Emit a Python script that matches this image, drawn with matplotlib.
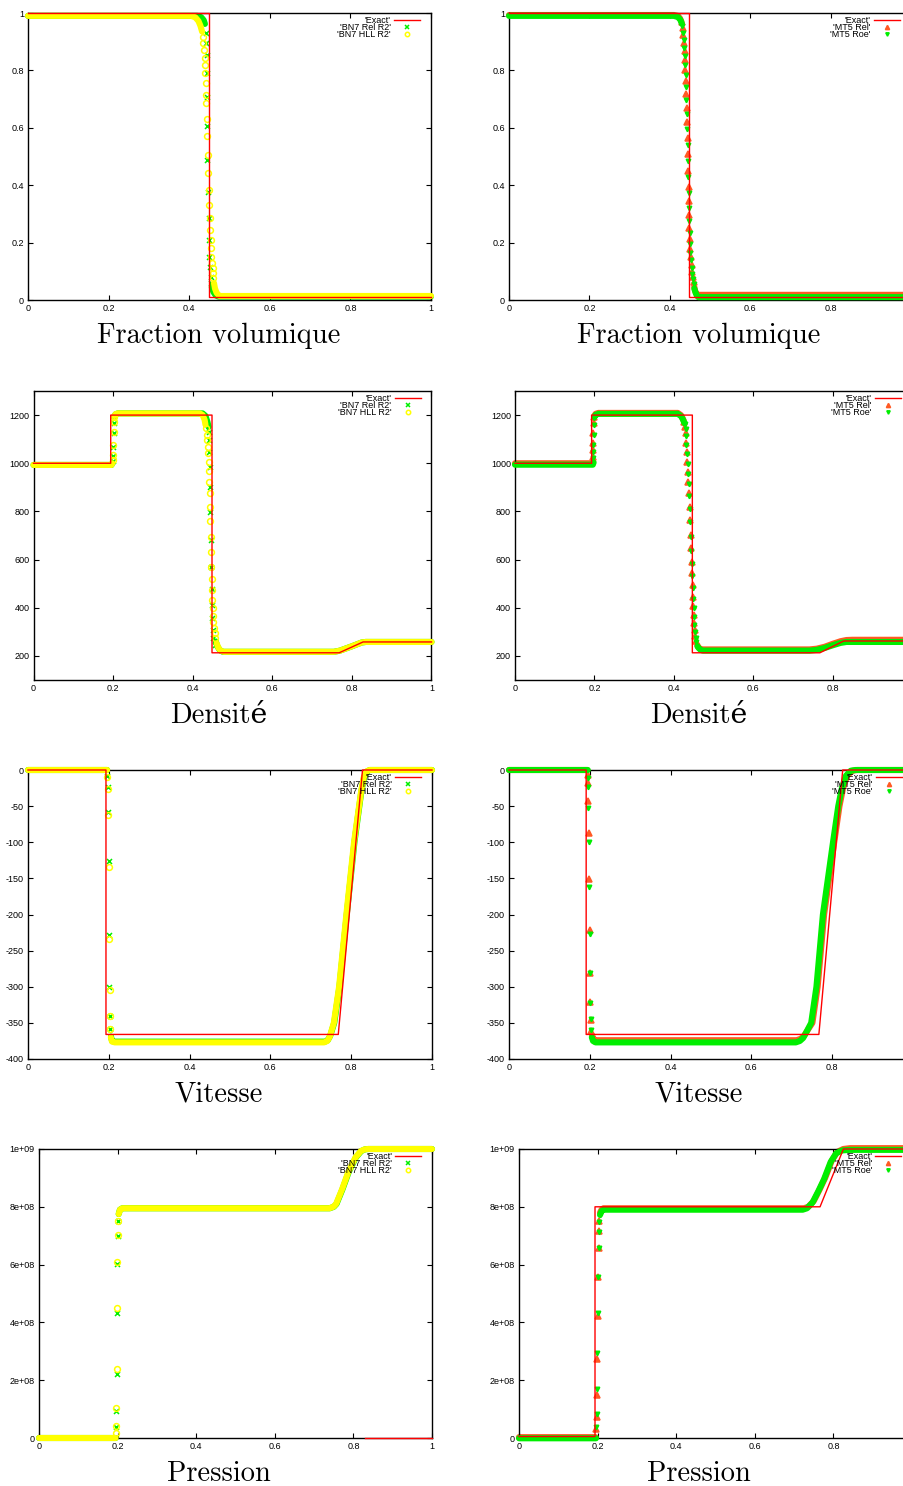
import numpy as np
import matplotlib.pyplot as plt

plt.rcParams['font.family'] = ['Liberation Sans', 'DejaVu Sans']
plt.rcParams['axes.unicode_minus'] = False

nan = np.nan

# ---- ticks / labels
x_ticks = [0, 0.2, 0.4, 0.6, 0.8, 1]
x_ticklabels = ['0', '0.2', '0.4', '0.6', '0.8', '1']
# right column is cut by the page edge, the "1" is not shown there
x_ticklabels_right = ['0', '0.2', '0.4', '0.6', '0.8', '']
alpha_ticks = [0, 0.2, 0.4, 0.6, 0.8, 1]
alpha_ticklabels = ['0', '0.2', '0.4', '0.6', '0.8', '1']
rho_ticks = [200, 400, 600, 800, 1000, 1200]
rho_ticklabels = ['200', '400', '600', '800', '1000', '1200']
u_ticks = [0, -50, -100, -150, -200, -250, -300, -350, -400]
u_ticklabels = ['0', '-50', '-100', '-150', '-200', '-250', '-300', '-350', '-400']
p_ticks = [0, 2e8, 4e8, 6e8, 8e8, 1e9]
p_ticklabels = ['0', '2e+08', '4e+08', '6e+08', '8e+08', '1e+09']
titles = ['Fraction volumique', 'Densité', 'Vitesse', 'Pression']
labels_left = ["'Exact'", "'BN7 Rel R2'", "'BN7 HLL R2'"]
labels_right = ["'Exact'", "'MT5 Rel'", "'MT5 Roe'"]

# ================= Fraction volumique =================
alpha_exact_x = [0, 0.448, 0.448, 1]
alpha_exact_y = [1, 1, 0.01, 0.01]
alpha_rel_band_x = [0, 0.42, 0.43, 0.436, 0.439, nan, 0.456, 0.46, 0.466, 0.472, 1]
alpha_rel_band_y = [0.99, 0.99, 0.985, 0.975, 0.962, nan, 0.045, 0.028, 0.016, 0.012, 0.012]
alpha_rel_pts_x = [0.441, 0.4417, 0.4434, 0.4434, 0.4434, 0.445, 0.445, 0.447, 0.448, 0.449,
                   0.45, 0.4516, 0.453, 0.455]
alpha_rel_pts_y = [0.929, 0.894, 0.854, 0.79, 0.708, 0.606, 0.488, 0.377, 0.285, 0.209,
                   0.151, 0.116, 0.081, 0.059]
alpha_hll_band_x = [0, 0.405, 0.415, 0.423, 0.428, 0.432, nan, 0.4615, 0.464, 0.468, 0.475, 1]
alpha_hll_band_y = [0.99, 0.99, 0.985, 0.972, 0.955, 0.935, nan, 0.059, 0.04, 0.025, 0.014, 0.014]
alpha_hll_pts_x = [0.4335, 0.435, 0.4367, 0.4385, 0.439, 0.44, 0.441, 0.4417, 0.4417, 0.4434,
                   0.445, 0.446, 0.447, 0.448, 0.45, 0.451, 0.4516, 0.453, 0.454, 0.455,
                   0.4566, 0.458, 0.459, 0.46]
alpha_hll_pts_y = [0.917, 0.894, 0.871, 0.844, 0.819, 0.79, 0.755, 0.714, 0.686, 0.631,
                   0.571, 0.505, 0.443, 0.383, 0.331, 0.286, 0.244, 0.209, 0.181, 0.15,
                   0.129, 0.111, 0.094, 0.077]

alpha_exact2_x = [0, 0.449, 0.449, 1]
alpha_exact2_y = [1, 1, 0.01, 0.01]
alpha_mrel_band_x = [0, 0.41, 0.42, 0.425, 0.429, nan, 0.4608, 0.463, 0.466, 0.47, 1]
alpha_mrel_band_y = [0.993, 0.993, 0.99, 0.982, 0.97, nan, 0.046, 0.032, 0.022, 0.018, 0.018]
alpha_mrel_pts_x = [0.430, 0.4326, 0.434, 0.436, 0.4376, 0.438, 0.439, 0.440, 0.4408, 0.4426,
                    0.4433, 0.4441, 0.445, 0.4458, 0.4466, 0.4475, 0.4483, 0.449, 0.45, 0.4508,
                    0.4525, 0.454, 0.4558, 0.4575, 0.459]
alpha_mrel_pts_y = [0.970, 0.947, 0.923, 0.894, 0.869, 0.836, 0.801, 0.763, 0.717, 0.67,
                    0.621, 0.566, 0.509, 0.451, 0.395, 0.345, 0.296, 0.25, 0.211, 0.177,
                    0.151, 0.122, 0.099, 0.081, 0.064]
alpha_mroe_band_x = [0, 0.41, 0.42, 0.426, 0.43, nan, 0.461, 0.464, 0.467, 0.471, 1]
alpha_mroe_band_y = [0.99, 0.99, 0.986, 0.977, 0.963, nan, 0.04, 0.026, 0.016, 0.01, 0.01]
alpha_mroe_pts_x = [0.4315, 0.4335, 0.435, 0.4365, 0.438, 0.4388, 0.4395, 0.4403, 0.4412, 0.443,
                    0.4437, 0.4445, 0.4453, 0.4461, 0.447, 0.4478, 0.4486, 0.4494, 0.4503, 0.4512,
                    0.4528, 0.4545, 0.456, 0.4578, 0.4595]
alpha_mroe_pts_y = [0.955, 0.93, 0.905, 0.878, 0.85, 0.818, 0.783, 0.742, 0.697, 0.648,
                    0.597, 0.541, 0.484, 0.427, 0.372, 0.322, 0.275, 0.232, 0.195, 0.163,
                    0.138, 0.111, 0.09, 0.073, 0.057]

# ================= Densite =================
rho_exact_x = [0, 0.194, 0.194, 0.4485, 0.4485, 0.768, 0.828, 1]
rho_exact_y = [1000, 1000, 1200, 1200, 213, 213, 258, 258]
rho_rel_band_x = [0, 0.196, 0.198, nan, 0.2035, 0.206, 0.212, 0.425, 0.432, 0.437, 0.44, nan,
                  0.458, 0.462, 0.468, 0.476, 0.755, 0.77, 0.8, 0.825, 0.835, 1]
rho_rel_band_y = [993, 993, 1000, nan, 1195, 1203, 1207, 1207, 1197, 1172, 1150, nan,
                  260, 240, 224, 217, 217, 222, 240, 256, 258, 258]
rho_rel_pts_x = [0.1985, 0.2, 0.2005, 0.2013, 0.2021, 0.203, 0.441, 0.4418, 0.4418, 0.4435,
                 0.4435, 0.4443, 0.4452, 0.4468, 0.4477, 0.4485, 0.4493, 0.4502, 0.4518, 0.456]
rho_rel_pts_y = [1010, 1030, 1069, 1124, 1166, 1187, 1131, 1096, 1048, 986,
                 903, 799, 681, 570, 478, 411, 356, 307, 273, 245]
rho_hll_band_x = [0, 0.196, 0.198, nan, 0.2035, 0.206, 0.212, 0.418, 0.425, 0.43, 0.432, nan,
                  0.4602, 0.4644, 0.47, 0.478, 0.755, 0.77, 0.8, 0.825, 0.835, 1]
rho_hll_band_y = [993, 993, 1000, nan, 1196, 1204, 1207, 1207, 1200, 1180, 1160, nan,
                  252, 234, 222, 217, 217, 222, 240, 256, 258, 258]
rho_hll_pts_x = [0.1985, 0.2, 0.2005, 0.2013, 0.2021, 0.203, 0.4334, 0.4351, 0.4368, 0.4376,
                 0.4393, 0.4401, 0.441, 0.4418, 0.4427, 0.4435, 0.4443, 0.4452, 0.446, 0.4468,
                 0.4477, 0.4485, 0.4493, 0.4502, 0.451, 0.4518, 0.4535, 0.4552, 0.4569]
rho_hll_pts_y = [1015, 1035, 1075, 1130, 1170, 1190, 1145, 1117, 1096, 1069,
                 1041, 1004, 968, 923, 875, 820, 760, 695, 630, 570,
                 519, 474, 432, 398, 367, 339, 315, 294, 273]

rho_exact2_x = [0, 0.193, 0.193, 0.4467, 0.4467, 0.768, 0.828, 1]
rho_exact2_y = [1000, 1000, 1200, 1200, 213, 213, 262, 262]
rho_mrel_band_x = [0, 0.195, 0.197, nan, 0.2, 0.203, 0.21, 0.41, 0.418, 0.422, 0.4255, nan,
                   0.4592, 0.462, 0.466, 0.472, 0.48, 0.742, 0.76, 0.78, 0.8, 0.82, 0.835, 0.85, 1]
rho_mrel_band_y = [1000, 1000, 1008, nan, 1197, 1205, 1209, 1209, 1200, 1188, 1175, nan,
                   245, 236, 230, 227, 227, 227, 230, 238, 250, 261, 266, 267, 267]
rho_mrel_pts_x = [0.197, 0.197, 0.197, 0.1975, 0.198, 0.1985, 0.4265, 0.429, 0.430, 0.4307,
                  0.4325, 0.434, 0.4358, 0.4366, 0.4383, 0.44, 0.4408, 0.4425, 0.4433, 0.445,
                  0.4458, 0.4475, 0.4484, 0.4492, 0.45, 0.4509, 0.4526, 0.4542, 0.4559]
rho_mrel_pts_y = [1027, 1055, 1083, 1124, 1166, 1193, 1173, 1152, 1124, 1083,
                  1048, 1006, 965, 923, 875, 820, 764, 702, 647, 591,
                  543, 494, 446, 407, 370, 335, 307, 283, 263]
rho_mroe_band_x = [0, 0.196, 0.198, nan, 0.2, 0.203, 0.21, 0.41, 0.418, 0.423, 0.427, nan,
                   0.4595, 0.463, 0.467, 0.473, 0.48, 0.742, 0.76, 0.78, 0.8, 0.82, 0.835, 0.85, 1]
rho_mroe_band_y = [994, 994, 1003, nan, 1192, 1201, 1205, 1205, 1196, 1182, 1166, nan,
                   240, 232, 226, 222, 222, 222, 225, 233, 244, 254, 258, 258, 258]
rho_mroe_pts_x = [0.1975, 0.1975, 0.1975, 0.198, 0.1985, 0.199, 0.4275, 0.4298, 0.4308, 0.4315,
                  0.4333, 0.4348, 0.4366, 0.4374, 0.4391, 0.4408, 0.4416, 0.4433, 0.4441, 0.4458,
                  0.4466, 0.4483, 0.4492, 0.45, 0.4508, 0.4517, 0.4534, 0.455, 0.4567]
rho_mroe_pts_y = [1020, 1048, 1077, 1118, 1160, 1188, 1165, 1143, 1114, 1074,
                  1038, 996, 955, 913, 865, 810, 754, 692, 637, 581,
                  533, 484, 436, 397, 361, 327, 299, 276, 257]

# ================= Vitesse =================
u_exact_x = [0, 0.193, 0.193, 0.768, 0.828, 1]
u_exact_y = [0, 0, -366, -366, 0, 0]
u_rel_band_x = [0, 0.196, nan, 0.2054, 0.208, 0.215, 0.735, 0.742, 0.748, 0.758, 0.771, 0.789,
                0.808, 0.825, 0.832, 0.839, 0.846, 1]
u_rel_band_y = [0, 0, nan, -369, -375, -376, -376, -374, -368, -350, -300, -200,
                -100, -30, -10, -2, 0, 0]
u_rel_pts_x = [0.1964, 0.198, 0.1988, 0.1997, 0.2005, 0.2013, 0.2021, 0.203]
u_rel_pts_y = [-8.3, -23, -57.7, -126, -228, -301, -340.5, -359]
u_hll_band_x = [0, 0.196, nan, 0.205, 0.208, 0.215, 0.733, 0.741, 0.747, 0.757, 0.77, 0.788,
                0.807, 0.8245, 0.831, 0.838, 0.845, 1]
u_hll_band_y = [0, 0, nan, -370, -376, -377, -377, -375, -369, -350, -300, -200,
                -100, -30, -10, -2, 0, 0]
u_hll_pts_x = [0.1964, 0.198, 0.1988, 0.1997, 0.2013, 0.2021, 0.203, 0.2038]
u_hll_pts_y = [-10, -26, -62, -134, -234, -304, -340, -359]

u_exact2_x = [0, 0.191, 0.191, 0.767, 0.826, 1]
u_exact2_y = [0, 0, -366, -366, 0, 0]
u_mrel_band_x = [0, 0.194, nan, 0.2055, 0.209, 0.215, 0.712, 0.722, 0.73, 0.737, 0.751, 0.764,
                 0.78, 0.805, 0.818, 0.827, 0.837, 0.85, 0.862, 1]
u_mrel_band_y = [0, 0, nan, -367, -372, -374, -374, -372, -368, -362, -350, -300,
                 -200, -100, -50, -25, -8, -1, 0, 0]
u_mrel_pts_x = [0.1947, 0.1947, 0.1964, 0.1972, 0.1988, 0.1997, 0.2005, 0.2013, 0.2021, 0.2038]
u_mrel_pts_y = [-6.9, -18.5, -42.4, -86.7, -151, -221, -281, -321.6, -346, -361]
u_mroe_band_x = [0, 0.195, nan, 0.205, 0.208, 0.214, 0.71, 0.72, 0.728, 0.735, 0.748, 0.761,
                 0.777, 0.802, 0.815, 0.824, 0.834, 0.846, 0.858, 1]
u_mroe_band_y = [0, 0, nan, -370, -375, -377, -377, -375, -371, -364, -350, -300,
                 -200, -100, -50, -25, -8, -1, 0, 0]
u_mroe_pts_x = [0.1947, 0.1955, 0.1964, 0.1972, 0.198, 0.1997, 0.2005, 0.2013, 0.2021, 0.2038]
u_mroe_pts_y = [-11, -24, -52, -99, -162, -227, -281, -322, -345, -360]

# ================= Pression =================
p_exact_x = [0.83, 1]
p_exact_y = [0, 0]
p_rel_band_x = [0, 0.195, nan, 0.2028, 0.206, 0.212, 0.74, 0.75, 0.757, 0.772, 0.788, 0.806,
                0.82, 0.83, 0.838, 1]
p_rel_band_y = [0, 0, nan, 7.75e8, 7.9e8, 7.95e8, 7.95e8, 8.0e8, 8.1e8, 8.6e8, 9.2e8, 9.7e8,
                9.93e8, 9.99e8, 1e9, 1e9]
p_rel_pts_x = [0.1968, 0.1968, 0.1985, 0.1994, 0.1994, 0.2011, 0.202]
p_rel_pts_y = [0.37e8, 0.945e8, 2.215e8, 4.336e8, 6.02e8, 7.0e8, 7.51e8]
p_hll_band_x = [0, 0.195, nan, 0.2028, 0.206, 0.212, 0.739, 0.749, 0.756, 0.771, 0.787, 0.805,
                0.819, 0.829, 0.837, 1]
p_hll_band_y = [0, 0, nan, 7.75e8, 7.9e8, 7.95e8, 7.95e8, 8.0e8, 8.1e8, 8.6e8, 9.2e8, 9.7e8,
                9.93e8, 9.99e8, 1e9, 1e9]
p_hll_pts_x = [0.1968, 0.1968, 0.1968, 0.1985, 0.1994, 0.1994, 0.2011, 0.202]
p_hll_pts_y = [0.16e8, 0.41e8, 1.05e8, 2.39e8, 4.49e8, 6.1e8, 7.02e8, 7.51e8]

p_exact2_x = [0, 0.1934, 0.1934, 0.766, 0.8255, 1]
p_exact2_y = [5e6, 5e6, 8.0e8, 8.0e8, 1e9, 1e9]
p_mrel_band_x = [0, 0.195, nan, 0.2062, 0.21, 0.215, 0.725, 0.736, 0.75, 0.765, 0.779, 0.796,
                 0.81, 0.825, 0.8425, 1]
p_mrel_band_y = [3e6, 3e6, nan, 7.8e8, 7.9e8, 7.95e8, 7.95e8, 8.0e8, 8.2e8, 8.6e8, 9.0e8, 9.6e8,
                 9.9e8, 1.0e9, 1.003e9, 1.003e9]
p_mrel_pts_x = [0.1968, 0.1977, 0.1977, 0.1994, 0.2011, 0.2019, 0.2028, 0.2036, 0.2045]
p_mrel_pts_y = [0.3e8, 0.716e8, 1.488e8, 2.73e8, 4.22e8, 5.58e8, 6.56e8, 7.17e8, 7.51e8]
p_mroe_band_x = [0, 0.196, nan, 0.2062, 0.21, 0.215, 0.722, 0.733, 0.747, 0.762, 0.776, 0.793,
                 0.807, 0.822, 0.84, 1]
p_mroe_band_y = [-1e6, -1e6, nan, 7.72e8, 7.85e8, 7.9e8, 7.9e8, 7.95e8, 8.15e8, 8.55e8, 8.95e8,
                 9.55e8, 9.85e8, 9.95e8, 9.97e8, 9.97e8]
p_mroe_pts_x = [0.1968, 0.1977, 0.1977, 0.1994, 0.2011, 0.2019, 0.2028, 0.2036, 0.2045, 0.2062]
p_mroe_pts_y = [0.37e8, 0.83e8, 1.68e8, 2.93e8, 4.31e8, 5.58e8, 6.56e8, 7.14e8, 7.47e8, 7.72e8]

RED = '#ff0000'
GREEN = '#00ee00'
YELLOW = '#ffff00'
ORANGE = '#ff5a24'

W, H = 904, 1486
fig = plt.figure(figsize=(W / 100, H / 100), dpi=100)


def add_ax(x0, x1, ytop, ybot):
    return fig.add_axes([x0 / W, 1 - ybot / H, (x1 - x0) / W, (ybot - ytop) / H])


def style(ax, ylim, yt, ytl, xtl):
    ax.set_xlim(0, 1)
    ax.set_ylim(*ylim)
    ax.set_xticks(x_ticks)
    ax.set_xticklabels(xtl)
    ax.set_yticks(yt)
    ax.set_yticklabels(ytl)
    ax.tick_params(direction='in', top=True, right=True, length=3.5, width=0.8,
                   labelsize=6.5, pad=3)
    for s in ax.spines.values():
        s.set_linewidth(1.0)


def draw(ax, ex, ey, series, labels):
    ax.plot(ex, ey, color=RED, lw=1.0, label=labels[0], zorder=5, clip_on=False)
    z = 2
    for (bx, by, px, py, color, marker, ms, mfc), lab in zip(series, labels[1:]):
        ax.plot(bx, by, color=color, lw=4.4, solid_capstyle='round',
                solid_joinstyle='round', zorder=z, clip_on=False)
        ax.plot(px, py, ls='none', marker=marker, ms=ms, mec=color, mfc=mfc,
                mew=1.1, label=lab, zorder=z, clip_on=False)
        z += 1
    leg = ax.legend(loc='upper right', bbox_to_anchor=(0.973, 0.99), frameon=False,
                    markerfirst=False, fontsize=6.5, handlelength=2.9,
                    handletextpad=0.35, labelspacing=-0.2, borderpad=0,
                    borderaxespad=0, numpoints=1, markerscale=0.75)
    leg.set_zorder(10)


rows = [
    # left axes box, right axes box, ylim, ticks, ticklabels
    ((28, 431, 13, 300), (509, 911, 13, 300), (0, 1), alpha_ticks, alpha_ticklabels),
    ((33.5, 431.5, 391, 680), (515, 912, 391, 680), (100, 1300), rho_ticks, rho_ticklabels),
    ((28, 432, 770, 1059), (509, 913, 770, 1059), (-400, 0), u_ticks, u_ticklabels),
    ((39, 432, 1149, 1438), (519, 912, 1149, 1438), (0, 1e9), p_ticks, p_ticklabels),
]

left_data = [
    (alpha_exact_x, alpha_exact_y,
     [(alpha_rel_band_x, alpha_rel_band_y, alpha_rel_pts_x, alpha_rel_pts_y, GREEN, 'x', 3.6, GREEN),
      (alpha_hll_band_x, alpha_hll_band_y, alpha_hll_pts_x, alpha_hll_pts_y, YELLOW, 'o', 4.2, 'none')]),
    (rho_exact_x, rho_exact_y,
     [(rho_rel_band_x, rho_rel_band_y, rho_rel_pts_x, rho_rel_pts_y, GREEN, 'x', 3.6, GREEN),
      (rho_hll_band_x, rho_hll_band_y, rho_hll_pts_x, rho_hll_pts_y, YELLOW, 'o', 4.2, 'none')]),
    (u_exact_x, u_exact_y,
     [(u_rel_band_x, u_rel_band_y, u_rel_pts_x, u_rel_pts_y, GREEN, 'x', 3.6, GREEN),
      (u_hll_band_x, u_hll_band_y, u_hll_pts_x, u_hll_pts_y, YELLOW, 'o', 4.2, 'none')]),
    (p_exact_x, p_exact_y,
     [(p_rel_band_x, p_rel_band_y, p_rel_pts_x, p_rel_pts_y, GREEN, 'x', 3.6, GREEN),
      (p_hll_band_x, p_hll_band_y, p_hll_pts_x, p_hll_pts_y, YELLOW, 'o', 4.2, 'none')]),
]
right_data = [
    (alpha_exact2_x, alpha_exact2_y,
     [(alpha_mrel_band_x, alpha_mrel_band_y, alpha_mrel_pts_x, alpha_mrel_pts_y, ORANGE, '^', 4.0, ORANGE),
      (alpha_mroe_band_x, alpha_mroe_band_y, alpha_mroe_pts_x, alpha_mroe_pts_y, GREEN, 'v', 3.2, GREEN)]),
    (rho_exact2_x, rho_exact2_y,
     [(rho_mrel_band_x, rho_mrel_band_y, rho_mrel_pts_x, rho_mrel_pts_y, ORANGE, '^', 4.0, ORANGE),
      (rho_mroe_band_x, rho_mroe_band_y, rho_mroe_pts_x, rho_mroe_pts_y, GREEN, 'v', 3.2, GREEN)]),
    (u_exact2_x, u_exact2_y,
     [(u_mrel_band_x, u_mrel_band_y, u_mrel_pts_x, u_mrel_pts_y, ORANGE, '^', 4.0, ORANGE),
      (u_mroe_band_x, u_mroe_band_y, u_mroe_pts_x, u_mroe_pts_y, GREEN, 'v', 3.2, GREEN)]),
    (p_exact2_x, p_exact2_y,
     [(p_mrel_band_x, p_mrel_band_y, p_mrel_pts_x, p_mrel_pts_y, ORANGE, '^', 4.0, ORANGE),
      (p_mroe_band_x, p_mroe_band_y, p_mroe_pts_x, p_mroe_pts_y, GREEN, 'v', 3.2, GREEN)]),
]

for i, (lbox, rbox, ylim, yt, ytl) in enumerate(rows):
    axl = add_ax(*lbox)
    style(axl, ylim, yt, ytl, x_ticklabels)
    ex, ey, ser = left_data[i]
    draw(axl, ex, ey, ser, labels_left)

    axr = add_ax(*rbox)
    style(axr, ylim, yt, ytl, x_ticklabels_right)
    ex, ey, ser = right_data[i]
    draw(axr, ex, ey, ser, labels_right)

    base = lbox[3] + 43
    for xc in (219, 699):
        fig.text(xc / W, 1 - base / H, titles[i], ha='center', va='baseline',
                 fontsize=20.5, family=['cmr10', 'DejaVu Serif'])

fig.savefig('out.png', dpi=100)
